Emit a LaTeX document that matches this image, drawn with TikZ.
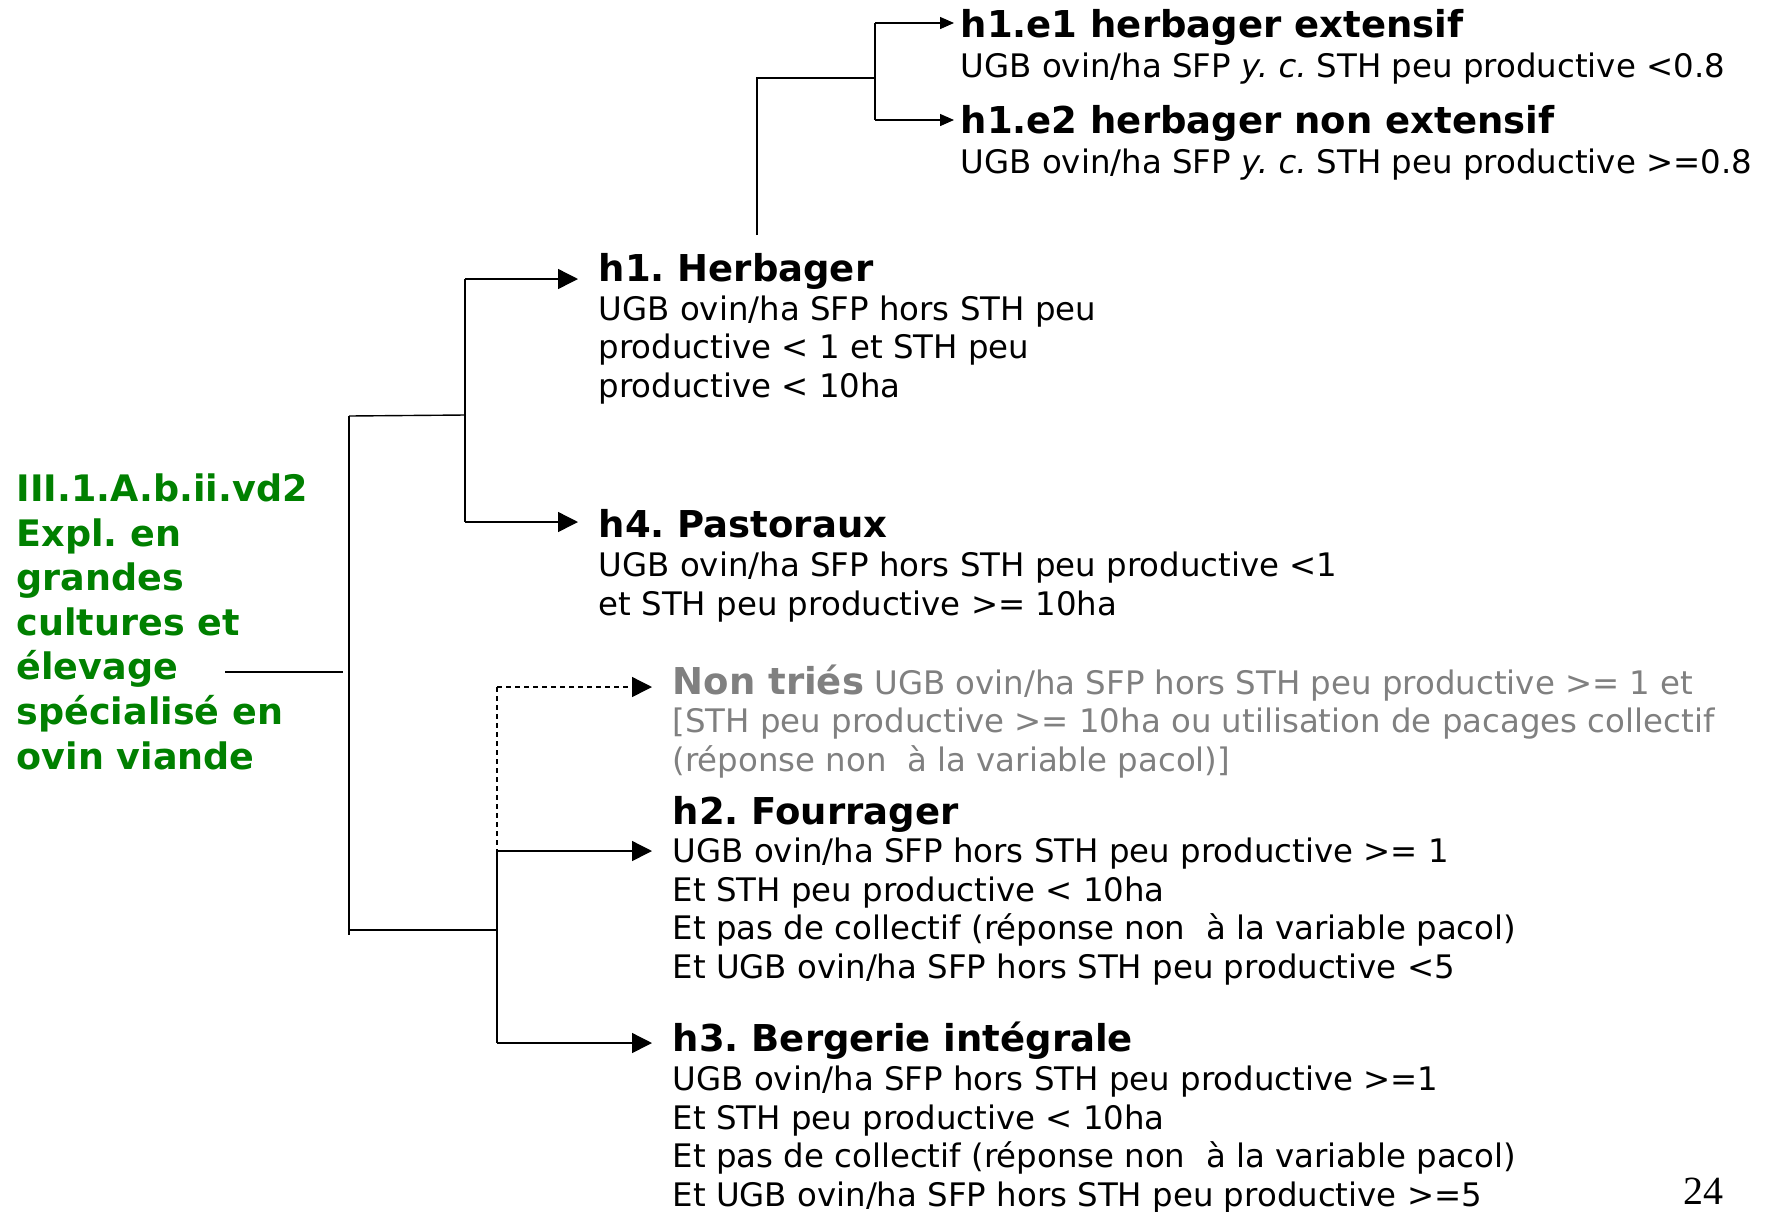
\documentclass[tikz,border=0pt]{standalone}
\usepackage{fontspec}
\setmainfont{DejaVu Sans}
\newfontfamily\pagefont{Liberation Serif}
\usepackage{tikz}
\usetikzlibrary{arrows.meta}
\definecolor{vert}{RGB}{0,128,0}
\definecolor{gris}{RGB}{128,128,128}
\frenchspacing
\tikzset{
	titre/.style={anchor=base west, inner sep=3pt, font=\fontsize{18.5}{22}\selectfont\bfseries},
	corps/.style={anchor=base west, inner sep=3pt, align=left, font=\fontsize{16.2}{19.2}\selectfont},
	fleche/.style={->, shorten >=7pt},
	petite/.style={-{Triangle[length=7pt,width=6pt]}},
	tirets/.style={dash pattern=on 2.5pt off 2pt},
}

\begin{document}
\begin{tikzpicture}[x=0.5pt, y=-0.5pt, line width=0.7pt, >={Triangle[length=10pt,width=10pt]}]
	\useasboundingbox (0,0) rectangle (1771,1211);

	\node[anchor=base west, inner sep=3pt, align=left, text=vert, font=\fontsize{18.25}{22.3}\selectfont\bfseries] (racine) at (10,769) {III.1.A.b.ii.vd2\\Expl. en\\grandes\\cultures et\\élevage\\spécialisé en\\ovin viande};

	\node[titre] (h1e1) at (954,37) {h1.e1 herbager extensif};
	\node[corps] (h1e1txt) at (954,77) {UGB ovin/ha SFP \textit{y. c.} STH peu productive <0.8};
	\node[titre] (h1e2) at (954,133) {h1.e2 herbager non extensif};
	\node[corps] (h1e2txt) at (954,173) {UGB ovin/ha SFP \textit{y. c.} STH peu productive >=0.8};

	\node[titre] (h1) at (592,281) {h1. Herbager};
	\node[corps] (h1txt) at (592,397) {UGB ovin/ha SFP hors STH peu\\productive < 1 et STH peu\\productive < 10ha};
	\node[titre] (h4) at (592,537) {h4. Pastoraux};
	\node[corps] (h4txt) at (592,615) {UGB ovin/ha SFP hors STH peu productive <1\\et STH peu productive >= 10ha};

	\node[corps, text=gris] (nontries) at (666,771) {{\fontsize{18.5}{19.2}\selectfont\bfseries Non triés} UGB ovin/ha SFP hors STH peu productive >= 1 et\\{[}STH peu productive >= 10ha ou utilisation de pacages collectif\\(réponse non\ \ à la variable pacol)]};
	\node[titre] (h2) at (666,824) {h2. Fourrager};
	\node[corps] (h2txt) at (666,978) {UGB ovin/ha SFP hors STH peu productive >= 1\\Et STH peu productive < 10ha\\Et pas de collectif (réponse non\ \ à la variable pacol)\\Et UGB ovin/ha SFP hors STH peu productive <5};
	\node[titre] (h3) at (666,1051) {h3. Bergerie intégrale};
	\node[corps] (h3txt) at (666,1206) {UGB ovin/ha SFP hors STH peu productive >=1\\Et STH peu productive < 10ha\\Et pas de collectif (réponse non\ \ à la variable pacol)\\Et UGB ovin/ha SFP hors STH peu productive >=5};

	\node[anchor=base west, inner sep=0pt, font=\pagefont\fontsize{20}{24}\selectfont] (page) at (1683,1204) {24};

	\coordinate (rootout) at (225,672); \coordinate (racinej) at (343,672);
	\coordinate (mtop) at (349,416); \coordinate (mbot) at (349,935);
	\coordinate (ha) at (465,415); \coordinate (jh1) at (465,279); \coordinate (jh4) at (465,522);
	\coordinate (h1up) at (757,235); \coordinate (jhe) at (757,78); \coordinate (je1) at (875,23); \coordinate (je2) at (875,120);
	\coordinate (jbas) at (497,930); \coordinate (jnt) at (497,687); \coordinate (jh2) at (497,851); \coordinate (jh3) at (497,1043);

	\draw (rootout) -- (racinej);
	\draw (mtop) -- (mbot);
	\draw (mtop) -- (ha);
	\draw (jh1) -- (jh4);
	\draw[fleche] (jh1) -- (jh1 -| h1.west);
	\draw[fleche] (jh4) -- (jh4 -| h4.west);

	\draw (h1up) -- (jhe) -- (jhe -| je1);
	\draw (je1) -- (je2);
	\draw[petite] (je1) -- (je1 -| h1e1.west);
	\draw[petite] (je2) -- (je2 -| h1e2.west);

	\draw (mbot |- jbas) -- (jbas);
	\draw[tirets] (jnt) -- (jh2);
	\draw (jh2) -- (jh3);
	\draw[fleche, tirets] (jnt) -- (jnt -| nontries.west);
	\draw[fleche] (jh2) -- (jh2 -| h2txt.west);
	\draw[fleche] (jh3) -- (jh3 -| h3.west);
\end{tikzpicture}
\end{document}
